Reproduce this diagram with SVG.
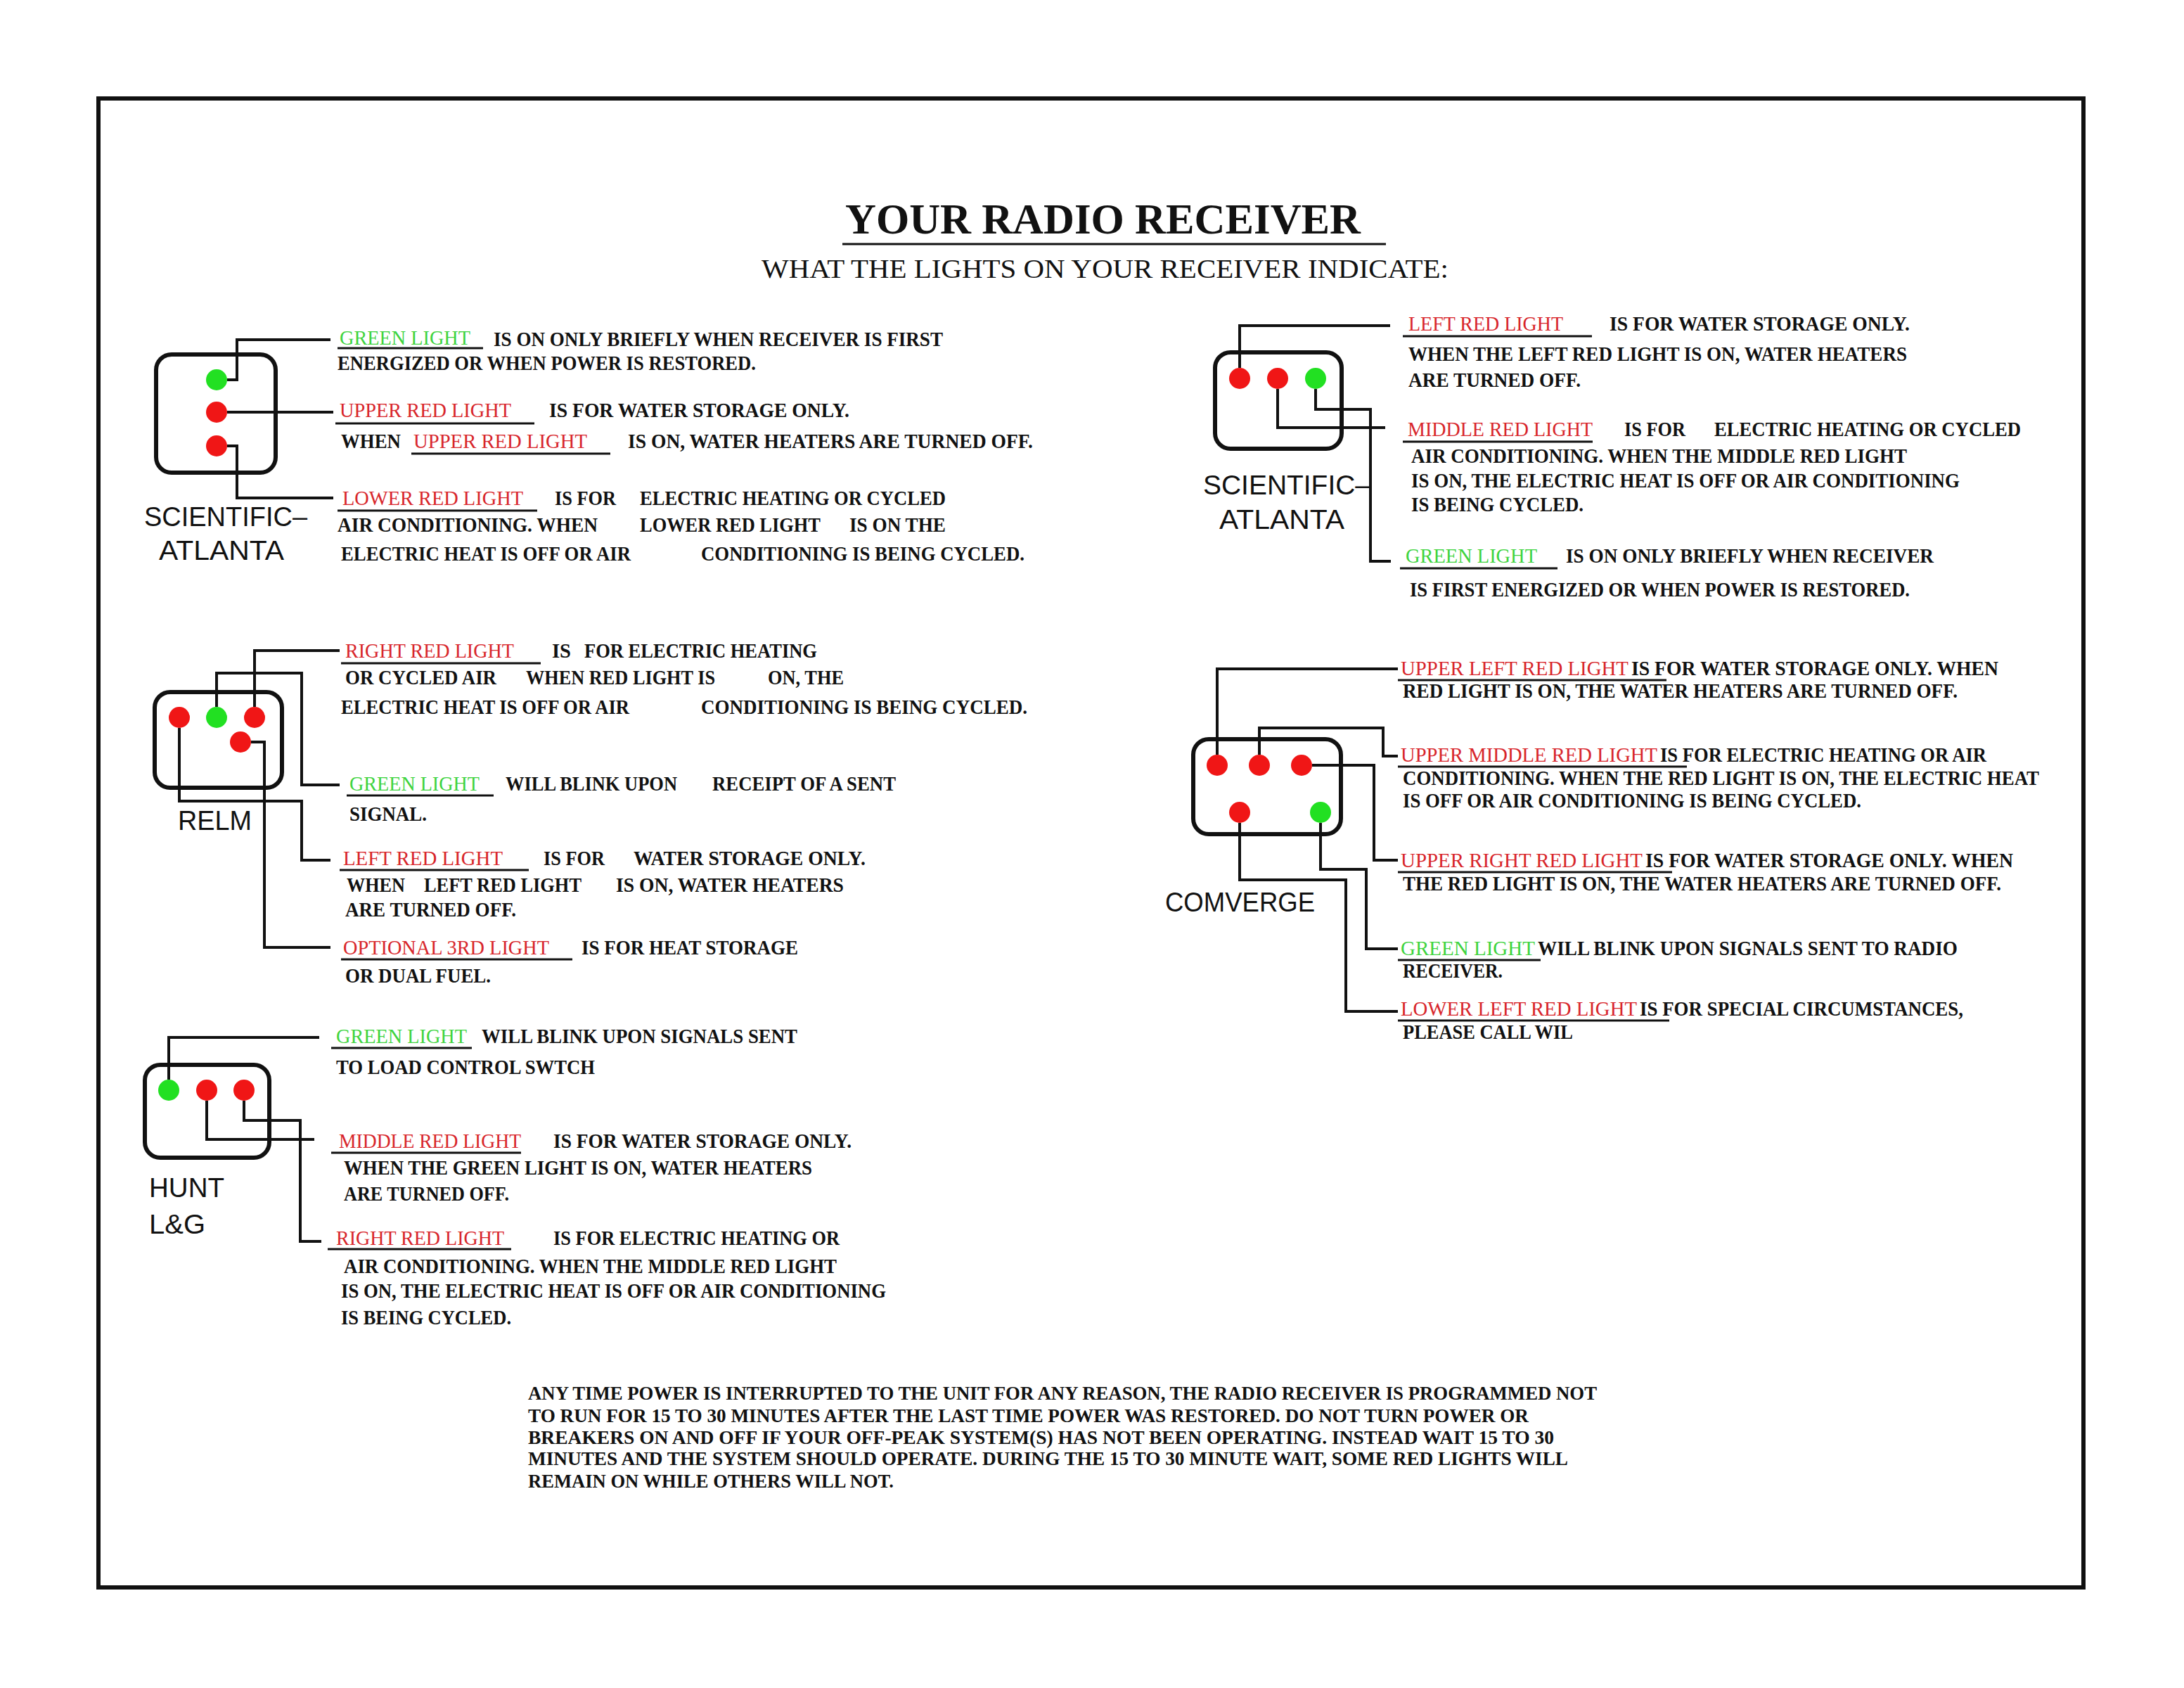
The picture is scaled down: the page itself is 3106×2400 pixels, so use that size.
<svg xmlns="http://www.w3.org/2000/svg" width="3106" height="2400" viewBox="0 0 3106 2400">
<style>
.box{fill:none;stroke:#111;stroke-width:6}
.r{fill:#f01616}
.g{fill:#22e022}
.w{fill:none;stroke:#111;stroke-width:4}
.ul{stroke:#111;stroke-width:3}
text{font-family:"Liberation Serif","Times New Roman",serif;font-weight:bold;font-size:30px;fill:#111}
.tr{fill:#d8262b;font-weight:normal}
.tg{fill:#3fd43f;font-weight:normal}
.lab{font-family:"Liberation Sans",Arial,sans-serif;font-weight:normal;font-size:38px;fill:#111}
.title{font-size:62px}
.sub{font-size:38px;font-weight:normal}
.note{font-size:28px}
</style>
<rect x="0" y="0" width="3106" height="2400" fill="#fff"/>
<rect x="140" y="140" width="2823" height="2117" fill="none" stroke="#111" stroke-width="6"/>

<g id="title">
<text class="title" x="1202" y="332" textLength="733" lengthAdjust="spacingAndGlyphs">YOUR RADIO RECEIVER</text>
<line class="ul" x1="1198" y1="347" x2="1971" y2="347" stroke-width="4"/>
<text class="sub" x="1083" y="395" textLength="977" lengthAdjust="spacingAndGlyphs">WHAT THE LIGHTS ON YOUR RECEIVER INDICATE:</text>
</g>

<g id="connectors">
<path class="w" d="M323,540 H337 V483 H470"/>
<path class="w" d="M323,586 H474"/>
<path class="w" d="M323,634 H337 V708 H474"/>
<path class="w" d="M1763,523 V463 H1977"/>
<path class="w" d="M1817,553 V608 H1970"/>
<path class="w" d="M1871,553 V582 H1949 V798 H1978"/>
<path class="w" d="M362,1005 V925 H483"/>
<path class="w" d="M308,1005 V957 H429 V1116 H483"/>
<path class="w" d="M255,1035 V1139 H429 V1223 H470"/>
<path class="w" d="M357,1055 H376 V1347 H470"/>
<path class="w" d="M1731,1073 V951 H1988"/>
<path class="w" d="M1791,1073 V1035 H1967 V1075 H1988"/>
<path class="w" d="M1866,1088 H1954 V1223 H1988"/>
<path class="w" d="M1878,1170 V1236 H1943 V1349 H1988"/>
<path class="w" d="M1763,1170 V1251 H1914 V1438 H1988"/>
<path class="w" d="M240,1535 V1475 H454"/>
<path class="w" d="M294,1565 V1620 H447"/>
<path class="w" d="M347,1565 V1593 H427 V1765 H457"/>
</g>

<g id="scientific-atlanta-vertical">
<rect class="box" x="222" y="504" width="170" height="168" rx="22"/>
<circle class="g" cx="308" cy="540" r="15"/>
<circle class="r" cx="308" cy="586" r="15"/>
<circle class="r" cx="308" cy="634" r="15"/>
<text class="lab" x="205" y="748" textLength="232" lengthAdjust="spacingAndGlyphs">SCIENTIFIC–</text>
<text class="lab" x="226" y="796" textLength="178" lengthAdjust="spacingAndGlyphs">ATLANTA</text>
</g>
<g id="sa1-text">
<text class="tg" x="483" y="490" textLength="186" lengthAdjust="spacingAndGlyphs">GREEN LIGHT</text>
<line class="ul" x1="480" y1="495" x2="687" y2="495"/>
<text x="702" y="492" textLength="639" lengthAdjust="spacingAndGlyphs">IS ON ONLY BRIEFLY WHEN RECEIVER IS FIRST</text>
<text x="480" y="526" textLength="595" lengthAdjust="spacingAndGlyphs">ENERGIZED OR WHEN POWER IS RESTORED.</text>
<text class="tr" x="483" y="593" textLength="244" lengthAdjust="spacingAndGlyphs">UPPER RED LIGHT</text>
<line class="ul" x1="477" y1="602" x2="760" y2="602"/>
<text x="781" y="593" textLength="427" lengthAdjust="spacingAndGlyphs">IS FOR WATER STORAGE ONLY.</text>
<text x="485" y="637" textLength="85" lengthAdjust="spacingAndGlyphs">WHEN</text>
<text class="tr" x="588" y="637" textLength="247" lengthAdjust="spacingAndGlyphs">UPPER RED LIGHT</text>
<line class="ul" x1="585" y1="645" x2="868" y2="645"/>
<text x="893" y="637" textLength="576" lengthAdjust="spacingAndGlyphs">IS ON, WATER HEATERS ARE TURNED OFF.</text>
<text class="tr" x="487" y="718" textLength="257" lengthAdjust="spacingAndGlyphs">LOWER RED LIGHT</text>
<line class="ul" x1="480" y1="726" x2="764" y2="726"/>
<text x="789" y="718" textLength="87" lengthAdjust="spacingAndGlyphs">IS FOR</text>
<text x="910" y="718" textLength="435" lengthAdjust="spacingAndGlyphs">ELECTRIC HEATING OR CYCLED</text>
<text x="480" y="756" textLength="370" lengthAdjust="spacingAndGlyphs">AIR CONDITIONING.  WHEN</text>
<text x="910" y="756" textLength="257" lengthAdjust="spacingAndGlyphs">LOWER RED LIGHT</text>
<text x="1208" y="756" textLength="137" lengthAdjust="spacingAndGlyphs">IS ON THE</text>
<text x="485" y="797" textLength="412" lengthAdjust="spacingAndGlyphs">ELECTRIC HEAT IS OFF OR AIR</text>
<text x="997" y="797" textLength="460" lengthAdjust="spacingAndGlyphs">CONDITIONING IS BEING CYCLED.</text>
</g>

<g id="scientific-atlanta-horizontal">
<rect class="box" x="1728" y="501" width="180" height="137" rx="22"/>
<circle class="r" cx="1763" cy="538" r="15"/>
<circle class="r" cx="1817" cy="538" r="15"/>
<circle class="g" cx="1871" cy="538" r="15"/>
<text class="lab" x="1711" y="703" textLength="238" lengthAdjust="spacingAndGlyphs">SCIENTIFIC–</text>
<text class="lab" x="1734" y="752" textLength="178" lengthAdjust="spacingAndGlyphs">ATLANTA</text>
</g>
<g id="sa2-text">
<text class="tr" x="2003" y="470" textLength="220" lengthAdjust="spacingAndGlyphs">LEFT RED LIGHT</text>
<line class="ul" x1="1995" y1="478" x2="2264" y2="478"/>
<text x="2289" y="470" textLength="427" lengthAdjust="spacingAndGlyphs">IS FOR WATER STORAGE ONLY.</text>
<text x="2003" y="513" textLength="709" lengthAdjust="spacingAndGlyphs">WHEN THE LEFT RED LIGHT IS ON, WATER HEATERS</text>
<text x="2003" y="550" textLength="245" lengthAdjust="spacingAndGlyphs">ARE TURNED OFF.</text>
<text class="tr" x="2002" y="620" textLength="263" lengthAdjust="spacingAndGlyphs">MIDDLE RED LIGHT</text>
<line class="ul" x1="1995" y1="628" x2="2265" y2="628"/>
<text x="2310" y="620" textLength="87" lengthAdjust="spacingAndGlyphs">IS FOR</text>
<text x="2438" y="620" textLength="436" lengthAdjust="spacingAndGlyphs">ELECTRIC HEATING OR CYCLED</text>
<text x="2007" y="658" textLength="705" lengthAdjust="spacingAndGlyphs">AIR CONDITIONING.  WHEN THE MIDDLE RED LIGHT</text>
<text x="2007" y="693" textLength="780" lengthAdjust="spacingAndGlyphs">IS ON, THE ELECTRIC HEAT IS OFF OR AIR CONDITIONING</text>
<text x="2007" y="727" textLength="245" lengthAdjust="spacingAndGlyphs">IS BEING CYCLED.</text>
<text class="tg" x="1999" y="800" textLength="187" lengthAdjust="spacingAndGlyphs">GREEN LIGHT</text>
<line class="ul" x1="1991" y1="808" x2="2215" y2="808"/>
<text x="2227" y="800" textLength="523" lengthAdjust="spacingAndGlyphs">IS ON ONLY BRIEFLY WHEN RECEIVER</text>
<text x="2005" y="848" textLength="711" lengthAdjust="spacingAndGlyphs">IS FIRST ENERGIZED OR WHEN POWER IS RESTORED.</text>
</g>

<g id="relm">
<rect class="box" x="220" y="984" width="181" height="136" rx="22"/>
<circle class="r" cx="255" cy="1020" r="15"/>
<circle class="g" cx="308" cy="1020" r="15"/>
<circle class="r" cx="362" cy="1020" r="15"/>
<circle class="r" cx="342" cy="1055" r="15"/>
<text class="lab" x="253" y="1180" textLength="105" lengthAdjust="spacingAndGlyphs">RELM</text>
</g>
<g id="relm-text">
<text class="tr" x="491" y="935" textLength="240" lengthAdjust="spacingAndGlyphs">RIGHT RED LIGHT</text>
<line class="ul" x1="485" y1="943" x2="769" y2="943"/>
<text x="785" y="935" textLength="27" lengthAdjust="spacingAndGlyphs">IS</text>
<text x="831" y="935" textLength="331" lengthAdjust="spacingAndGlyphs">FOR ELECTRIC HEATING</text>
<text x="491" y="973" textLength="215" lengthAdjust="spacingAndGlyphs">OR CYCLED AIR</text>
<text x="748" y="973" textLength="269" lengthAdjust="spacingAndGlyphs">WHEN RED LIGHT IS</text>
<text x="1092" y="973" textLength="108" lengthAdjust="spacingAndGlyphs">ON, THE</text>
<text x="485" y="1015" textLength="410" lengthAdjust="spacingAndGlyphs">ELECTRIC HEAT IS OFF OR AIR</text>
<text x="997" y="1015" textLength="464" lengthAdjust="spacingAndGlyphs">CONDITIONING IS BEING CYCLED.</text>
<text class="tg" x="497" y="1124" textLength="185" lengthAdjust="spacingAndGlyphs">GREEN LIGHT</text>
<line class="ul" x1="493" y1="1131" x2="702" y2="1131"/>
<text x="719" y="1124" textLength="244" lengthAdjust="spacingAndGlyphs">WILL BLINK UPON</text>
<text x="1013" y="1124" textLength="261" lengthAdjust="spacingAndGlyphs">RECEIPT OF A SENT</text>
<text x="497" y="1167" textLength="110" lengthAdjust="spacingAndGlyphs">SIGNAL.</text>
<text class="tr" x="488" y="1230" textLength="227" lengthAdjust="spacingAndGlyphs">LEFT RED LIGHT</text>
<line class="ul" x1="483" y1="1237" x2="752" y2="1237"/>
<text x="773" y="1230" textLength="87" lengthAdjust="spacingAndGlyphs">IS FOR</text>
<text x="901" y="1230" textLength="330" lengthAdjust="spacingAndGlyphs">WATER STORAGE ONLY.</text>
<text x="493" y="1268" textLength="83" lengthAdjust="spacingAndGlyphs">WHEN</text>
<text x="603" y="1268" textLength="224" lengthAdjust="spacingAndGlyphs">LEFT RED LIGHT</text>
<text x="876" y="1268" textLength="324" lengthAdjust="spacingAndGlyphs">IS ON, WATER HEATERS</text>
<text x="491" y="1303" textLength="243" lengthAdjust="spacingAndGlyphs">ARE TURNED OFF.</text>
<text class="tr" x="488" y="1357" textLength="293" lengthAdjust="spacingAndGlyphs">OPTIONAL 3RD LIGHT</text>
<line class="ul" x1="485" y1="1364" x2="814" y2="1364"/>
<text x="827" y="1357" textLength="308" lengthAdjust="spacingAndGlyphs">IS FOR HEAT STORAGE</text>
<text x="491" y="1397" textLength="207" lengthAdjust="spacingAndGlyphs">OR DUAL FUEL.</text>
</g>

<g id="comverge">
<rect class="box" x="1697" y="1051" width="210" height="135" rx="22"/>
<circle class="r" cx="1731" cy="1088" r="15"/>
<circle class="r" cx="1791" cy="1088" r="15"/>
<circle class="r" cx="1851" cy="1088" r="15"/>
<circle class="r" cx="1763" cy="1155" r="15"/>
<circle class="g" cx="1878" cy="1155" r="15"/>
<text class="lab" x="1657" y="1296" textLength="213" lengthAdjust="spacingAndGlyphs">COMVERGE</text>
</g>
<g id="comverge-text">
<text class="tr" x="1992" y="960" textLength="324" lengthAdjust="spacingAndGlyphs">UPPER LEFT RED LIGHT</text>
<line class="ul" x1="1988" y1="967" x2="2370" y2="967"/>
<text x="2320" y="960" textLength="522" lengthAdjust="spacingAndGlyphs">IS FOR WATER STORAGE ONLY.  WHEN</text>
<text x="1995" y="992" textLength="789" lengthAdjust="spacingAndGlyphs">RED LIGHT IS ON, THE WATER HEATERS ARE TURNED OFF.</text>
<text class="tr" x="1992" y="1083" textLength="365" lengthAdjust="spacingAndGlyphs">UPPER MIDDLE RED LIGHT</text>
<line class="ul" x1="1988" y1="1090" x2="2399" y2="1090"/>
<text x="2361" y="1083" textLength="464" lengthAdjust="spacingAndGlyphs">IS FOR ELECTRIC HEATING OR AIR</text>
<text x="1995" y="1116" textLength="905" lengthAdjust="spacingAndGlyphs">CONDITIONING.  WHEN THE RED LIGHT IS ON, THE ELECTRIC HEAT</text>
<text x="1995" y="1148" textLength="652" lengthAdjust="spacingAndGlyphs">IS OFF OR AIR CONDITIONING IS BEING CYCLED.</text>
<text class="tr" x="1992" y="1233" textLength="344" lengthAdjust="spacingAndGlyphs">UPPER RIGHT RED LIGHT</text>
<line class="ul" x1="1988" y1="1240" x2="2378" y2="1240"/>
<text x="2340" y="1233" textLength="523" lengthAdjust="spacingAndGlyphs">IS FOR WATER STORAGE ONLY.  WHEN</text>
<text x="1995" y="1266" textLength="851" lengthAdjust="spacingAndGlyphs">THE RED LIGHT IS ON, THE WATER HEATERS ARE TURNED OFF.</text>
<text class="tg" x="1992" y="1358" textLength="191" lengthAdjust="spacingAndGlyphs">GREEN LIGHT</text>
<line class="ul" x1="1988" y1="1365" x2="2191" y2="1365"/>
<text x="2187" y="1358" textLength="597" lengthAdjust="spacingAndGlyphs">WILL BLINK UPON SIGNALS SENT TO RADIO</text>
<text x="1995" y="1390" textLength="142" lengthAdjust="spacingAndGlyphs">RECEIVER.</text>
<text class="tr" x="1992" y="1444" textLength="336" lengthAdjust="spacingAndGlyphs">LOWER LEFT RED LIGHT</text>
<line class="ul" x1="1988" y1="1451" x2="2374" y2="1451"/>
<text x="2332" y="1444" textLength="460" lengthAdjust="spacingAndGlyphs">IS FOR SPECIAL CIRCUMSTANCES,</text>
<text x="1995" y="1477" textLength="242" lengthAdjust="spacingAndGlyphs">PLEASE CALL WIL</text>
</g>

<g id="hunt">
<rect class="box" x="206" y="1514" width="177" height="132" rx="22"/>
<circle class="g" cx="240" cy="1550" r="15"/>
<circle class="r" cx="294" cy="1550" r="15"/>
<circle class="r" cx="347" cy="1550" r="15"/>
<text class="lab" x="212" y="1702" textLength="107" lengthAdjust="spacingAndGlyphs">HUNT</text>
<text class="lab" x="212" y="1754" textLength="80" lengthAdjust="spacingAndGlyphs">L&amp;G</text>
</g>
<g id="hunt-text">
<text class="tg" x="478" y="1483" textLength="186" lengthAdjust="spacingAndGlyphs">GREEN LIGHT</text>
<line class="ul" x1="471" y1="1490" x2="671" y2="1490"/>
<text x="685" y="1483" textLength="449" lengthAdjust="spacingAndGlyphs">WILL BLINK UPON SIGNALS SENT</text>
<text x="478" y="1527" textLength="368" lengthAdjust="spacingAndGlyphs">TO LOAD CONTROL SWTCH</text>
<text class="tr" x="482" y="1632" textLength="259" lengthAdjust="spacingAndGlyphs">MIDDLE RED LIGHT</text>
<line class="ul" x1="471" y1="1639" x2="741" y2="1639"/>
<text x="787" y="1632" textLength="424" lengthAdjust="spacingAndGlyphs">IS FOR WATER STORAGE ONLY.</text>
<text x="489" y="1670" textLength="666" lengthAdjust="spacingAndGlyphs">WHEN THE GREEN LIGHT IS ON, WATER HEATERS</text>
<text x="489" y="1707" textLength="235" lengthAdjust="spacingAndGlyphs">ARE TURNED OFF.</text>
<text class="tr" x="478" y="1770" textLength="239" lengthAdjust="spacingAndGlyphs">RIGHT RED LIGHT</text>
<line class="ul" x1="466" y1="1776" x2="727" y2="1776"/>
<text x="787" y="1770" textLength="407" lengthAdjust="spacingAndGlyphs">IS FOR ELECTRIC HEATING OR</text>
<text x="489" y="1810" textLength="701" lengthAdjust="spacingAndGlyphs">AIR CONDITIONING.  WHEN THE MIDDLE RED LIGHT</text>
<text x="485" y="1845" textLength="775" lengthAdjust="spacingAndGlyphs">IS ON, THE ELECTRIC HEAT IS OFF OR AIR CONDITIONING</text>
<text x="485" y="1883" textLength="242" lengthAdjust="spacingAndGlyphs">IS BEING CYCLED.</text>
</g>

<g id="note">
<text class="note" x="751" y="1990" textLength="1520" lengthAdjust="spacingAndGlyphs">ANY TIME POWER IS INTERRUPTED TO THE UNIT FOR ANY REASON, THE RADIO RECEIVER IS PROGRAMMED NOT</text>
<text class="note" x="751" y="2022" textLength="1423" lengthAdjust="spacingAndGlyphs">TO RUN FOR 15 TO 30 MINUTES AFTER THE LAST TIME POWER WAS RESTORED.  DO NOT TURN POWER OR</text>
<text class="note" x="751" y="2053" textLength="1459" lengthAdjust="spacingAndGlyphs">BREAKERS ON AND OFF IF YOUR OFF-PEAK SYSTEM(S) HAS NOT BEEN OPERATING.  INSTEAD WAIT 15 TO 30</text>
<text class="note" x="751" y="2083" textLength="1479" lengthAdjust="spacingAndGlyphs">MINUTES AND THE SYSTEM SHOULD OPERATE.  DURING THE 15 TO 30 MINUTE WAIT, SOME RED LIGHTS WILL</text>
<text class="note" x="751" y="2115" textLength="520" lengthAdjust="spacingAndGlyphs">REMAIN ON WHILE OTHERS WILL NOT.</text>
</g>
</svg>
